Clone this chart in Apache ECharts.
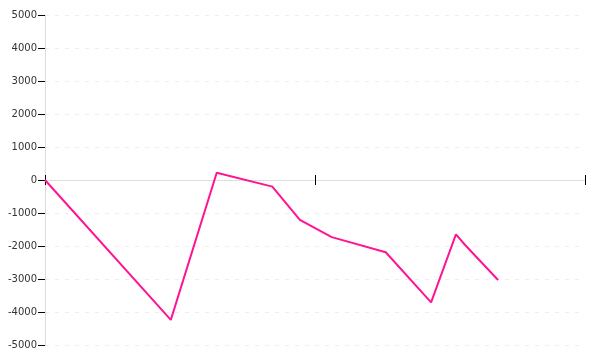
<!DOCTYPE html>
<html><head><meta charset="utf-8">
<script src="https://cdn.jsdelivr.net/npm/echarts@6/dist/echarts.min.js"></script>
<style>html,body{margin:0;padding:0;background:#fff}#c{width:600px;height:360px}</style>
</head><body><div id="c"></div>
<script>
var xValues = [0, 23.3, 31.8, 42.1, 47.2, 53.1, 63.1, 71.5, 76.1, 77.8, 83.9];
var yValues = [0, -4240, 220, -200, -1210, -1730, -2190, -3710, -1650, -1970, -3030];
var yTicks = [-5000, -4000, -3000, -2000, -1000, 0, 1000, 2000, 3000, 4000, 5000];

var points = xValues.map(function (x, i) { return [x, yValues[i]]; });
var chart = echarts.init(document.getElementById('c'), null, {renderer: 'canvas'});
var xBase = {
  type: 'value', min: 0, max: 100, interval: 50,
  axisLabel: {show: false},
  splitLine: {show: false}
};
var yMin = yTicks[0], yMax = yTicks[yTicks.length - 1];
chart.setOption({
  animation: false,
  grid: {left: 45, right: 15, top: 15, bottom: 15, containLabel: false},
  xAxis: [
    Object.assign({}, xBase, {position: 'bottom',
      axisLine: {onZero: true, onZeroAxisIndex: 0, lineStyle: {color: '#ddd', width: 1}},
      axisTick: {show: true, length: 5, inside: false, lineStyle: {color: '#000'}}}),
    Object.assign({}, xBase, {position: 'top',
      axisLine: {onZero: true, onZeroAxisIndex: 1, lineStyle: {color: '#ddd', width: 1}},
      axisTick: {show: true, length: 5, inside: false, lineStyle: {color: '#000'}}})
  ],
  yAxis: [{
    type: 'value', min: yMin, max: yMax, interval: 1000,
    axisLine: {show: true, lineStyle: {color: '#ddd'}},
    axisTick: {show: true, length: 7, lineStyle: {color: '#000'}},
    axisLabel: {color: '#333', fontSize: 10, fontFamily: 'DejaVu Sans', margin: 8,
      formatter: function (v) { return String(v); }},
    splitLine: {show: true, lineStyle: {color: '#eee', type: [4, 6]}}
  }, {
    type: 'value', min: yMin, max: yMax, interval: 1000, position: 'left',
    axisLine: {show: false}, axisTick: {show: false}, axisLabel: {show: false},
    splitLine: {show: false}
  }],
  series: [{
    type: 'line', xAxisIndex: 0, yAxisIndex: 0, data: points, showSymbol: false, smooth: false,
    lineStyle: {color: '#ff1493', width: 2}
  }]
});
</script></body></html>
